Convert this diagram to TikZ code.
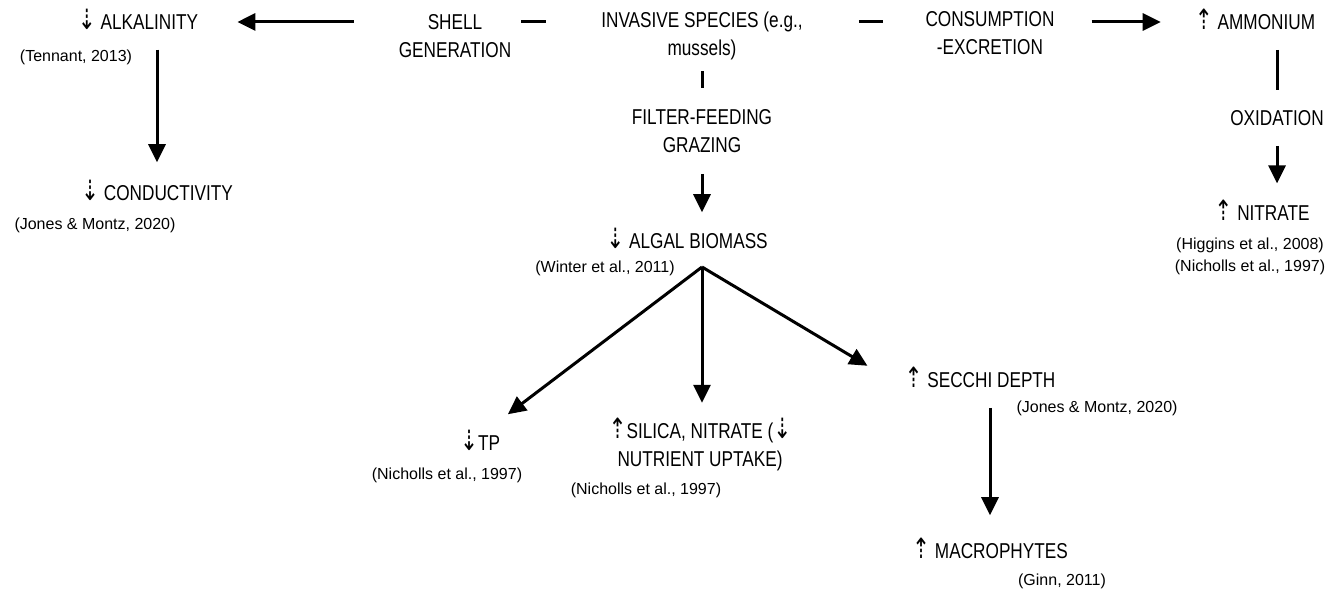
\documentclass[tikz,border=0pt]{standalone}
\usepackage{fontspec}
\setmainfont{Liberation Sans}[FakeStretch=0.8]
\newfontfamily\citefont{Liberation Sans}
\newfontfamily\arrowfont{DejaVu Sans}
\usetikzlibrary{arrows.meta}
\newcommand{\dn}{\smash{\arrowfont\scalebox{1}[1.3]{⇣}}}
\newcommand{\up}{\smash{\arrowfont\scalebox{1}[1.3]{⇡}}}
\tikzstyle{arrow} = [line width=3pt,-{Triangle[length=18pt,width=17pt]}]
\tikzstyle{link} = [line width=3pt]
\tikzstyle{head} = [inner sep=0pt, align=center, font=\fontsize{21.5}{28}\selectfont]
\tikzstyle{cite} = [inner sep=0pt, align=center, font=\citefont\fontsize{16}{22}\selectfont]

\begin{document}
\begin{tikzpicture}[x=1pt, y=-1pt]
\useasboundingbox (0,0) rectangle (1343,593);

% Top row
\node[head] (alk) at (138,22) {\dn\ ALKALINITY};
\node[cite] (tennant) at (76,57) {(Tennant, 2013)};
\node[head] (shell) at (455,36) {SHELL\\GENERATION};
\node[head] (inv) at (702,36) {INVASIVE SPECIES (e.g.,\\mussels)};
\node[head] (cons) at (990,33) {CONSUMPTION\\-EXCRETION};
\node[head] (amm) at (1255,22) {\up\ AMMONIUM};

% Left branch
\node[head] (cond) at (157,193) {\dn\ CONDUCTIVITY};
\node[cite] (jones1) at (95,225) {(Jones \& Montz, 2020)};

% Right branch
\node[head] (oxi) at (1277,118) {OXIDATION};
\node[head] (nit) at (1262,213) {\up\ NITRATE};
\node[cite] (higgins) at (1250,256) {(Higgins et al., 2008)\\(Nicholls et al., 1997)};

% Middle branch
\node[head] (filt) at (702,131) {FILTER-FEEDING\\GRAZING};
\node[head] (algal) at (687,241) {\dn\ ALGAL BIOMASS};
\node[cite] (winter) at (605,268) {(Winter et al., 2011)};
\coordinate (fork) at (702,267);

% Bottom row
\node[head] (tp) at (480,443) {\dn TP};
\node[cite] (nich1) at (447,475) {(Nicholls et al., 1997)};
\node[head] (silica) at (700,447) {\up SILICA, NITRATE (\dn\\NUTRIENT UPTAKE)};
\node[cite] (nich2) at (646,490) {(Nicholls et al., 1997)};
\node[head] (secchi) at (980,380) {\up\ SECCHI DEPTH};
\node[cite] (jones2) at (1097,408) {(Jones \& Montz, 2020)};
\node[head] (macro) at (990,551) {\up\ MACROPHYTES};
\node[cite] (ginn) at (1062,581) {(Ginn, 2011)};

% Connectors
\draw[arrow, shorten <=45pt, shorten >=39pt] (shell.west |- alk) -- (alk.east);
\draw[link, shorten <=10pt, shorten >=55pt] (shell.east |- alk) -- (inv.west |- alk);
\draw[link, shorten <=56pt, shorten >=42pt] (inv.east |- alk) -- (cons.west |- alk);
\draw[arrow, shorten <=37pt, shorten >=34pt] (cons.east |- amm) -- (amm.west);
\draw[arrow, shorten <=20pt, shorten >=23pt] (cond.north |- alk.south) -- (cond.north);
\draw[link, shorten <=20pt, shorten >=20pt] (oxi.north |- amm.south) -- (oxi.north);
\draw[arrow, shorten <=20pt, shorten >=22pt] (oxi.south) -- (oxi.south |- nit.north);
\draw[link, shorten <=11pt, shorten >=21pt] (inv.south) -- (filt.north);
\draw[arrow, shorten <=21pt, shorten >=21pt] (filt.south) -- (filt.south |- algal.north);
\draw[arrow, shorten >=35pt] (fork) -- (tp.north);
\draw[arrow, shorten >=20pt] (fork) -- (fork |- silica.north);
\draw[arrow, shorten >=43pt] (fork) -- (secchi.south west);
\draw[arrow, shorten <=20pt, shorten >=28pt] (macro.north |- secchi.south) -- (macro.north);
\end{tikzpicture}
\end{document}
